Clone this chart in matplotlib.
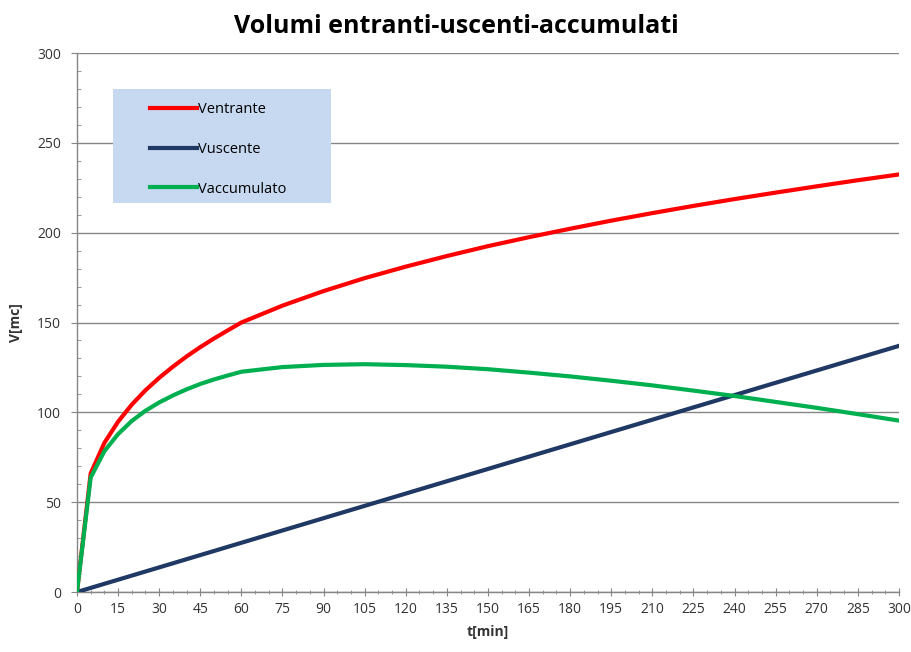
import matplotlib
matplotlib.use("Agg")
import matplotlib.pyplot as plt
from matplotlib.patches import Rectangle
from matplotlib.ticker import MultipleLocator

plt.rcParams['font.family'] = ['Liberation Sans Narrow', 'Open Sans', 'DejaVu Sans']

# tempo [min]
t = [0, 5, 10, 15, 20, 25, 30, 35, 40, 45, 50, 55, 60,
     75, 90, 105, 120, 135, 150, 165, 180, 195, 210, 225, 240, 255, 270, 285, 300]

# volumi [mc]
ventrante = [0, 66.0, 83.0, 94.8, 104.3, 112.3, 119.2, 125.4, 131.1, 136.3, 141.1, 145.6, 150.0,
             159.4, 167.5, 174.7, 181.1, 187.0, 192.5, 197.5, 202.2, 206.7, 210.9, 214.9, 218.7,
             222.3, 225.8, 229.2, 232.4]
vuscente = [0, 2.28, 4.57, 6.85, 9.13, 11.42, 13.70, 15.98, 18.27, 20.55, 22.83, 25.12, 27.40,
            34.25, 41.10, 47.95, 54.80, 61.65, 68.50, 75.36, 82.21, 89.06, 95.91, 102.76, 109.61,
            116.46, 123.31, 130.16, 137.0]
vaccumulato = [0, 63.7, 78.4, 87.9, 95.2, 100.9, 105.5, 109.4, 112.8, 115.8, 118.3, 120.5, 122.6,
               125.2, 126.4, 126.8, 126.3, 125.4, 124.0, 122.1, 120.0, 117.6, 115.0, 112.1, 109.1,
               105.8, 102.5, 99.0, 95.4]

fig = plt.figure(figsize=(9.12, 6.52), dpi=100)
ax = fig.add_axes([0.0844, 0.092, 0.9013, 0.8267])

ax.plot(t, ventrante, color='#FF0000', lw=3, label='Ventrante', zorder=4)
ax.plot(t, vuscente, color='#1F3864', lw=3, label='Vuscente', zorder=4)
ax.plot(t, vaccumulato, color='#00B050', lw=3, label='Vaccumulato', zorder=4)

ax.set_xlim(0, 300)
ax.set_ylim(0, 300)
ax.xaxis.set_major_locator(MultipleLocator(15))
ax.xaxis.set_minor_locator(MultipleLocator(5))
ax.yaxis.set_major_locator(MultipleLocator(50))
ax.yaxis.set_minor_locator(MultipleLocator(10))

ax.grid(axis='y', which='major', color='#868686', lw=1)
ax.set_axisbelow(True)
for s in ['top', 'right']:
    ax.spines[s].set_visible(False)
for s in ['left', 'bottom']:
    ax.spines[s].set_color('#868686')
    ax.spines[s].set_linewidth(1)

ax.tick_params(axis='x', which='major', direction='inout', length=6, color='#868686',
               labelsize=10, labelcolor='#333333', pad=4)
ax.tick_params(axis='x', which='minor', direction='inout', length=3, color='#868686')
ax.tick_params(axis='y', which='major', direction='out', length=4.5, color='#868686',
               labelsize=10, labelcolor='#333333', pad=7)
ax.tick_params(axis='y', which='minor', direction='in', length=3, color='#868686')

ax.set_xlabel('t[min]', fontsize=10, fontweight='bold', color='#333333', labelpad=6)
ax.set_ylabel('V[mc]', fontsize=10, fontweight='bold', color='#333333', labelpad=10)
fig.suptitle('Volumi entranti-uscenti-accumulati', fontsize=18, fontweight='bold', y=0.978)

# riquadro della legenda
ax.add_patch(Rectangle((0.0438, 0.7217), 0.2652, 0.2113, transform=ax.transAxes,
                       facecolor='#C6D9F0', edgecolor='none', zorder=3))
leg = ax.legend(loc='upper left', bbox_to_anchor=(0.082, 0.92), frameon=False,
                fontsize=10.5, handlelength=3.2, handletextpad=0.1, labelspacing=1.7,
                borderaxespad=0)
leg.set_zorder(5)

fig.savefig('out.png', dpi=100)
